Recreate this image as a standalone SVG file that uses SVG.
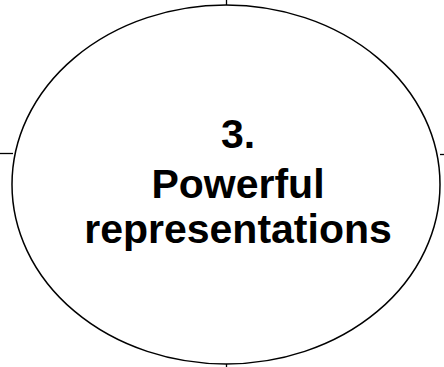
<svg xmlns="http://www.w3.org/2000/svg" width="444" height="367" viewBox="0 0 444 367">
<style>
.edge{stroke:#000;stroke-width:1.3;fill:none}
.node{fill:#fff;stroke:#000;stroke-width:1.5}
.lbl{font-family:"Liberation Sans",Arial,sans-serif;font-weight:bold;font-size:41px;fill:#000;text-anchor:middle}
</style>
<rect width="444" height="367" fill="#fff"/>
<g id="connectors">
<line class="edge" x1="226.5" y1="0" x2="226.5" y2="5"/>
<line class="edge" x1="0" y1="153.5" x2="13" y2="153.5"/>
<line class="edge" x1="440" y1="154.5" x2="444" y2="154.5"/>
<line class="edge" x1="226.5" y1="364" x2="226.5" y2="367"/>
</g>
<g id="node3">
<ellipse class="node" cx="226" cy="184.5" rx="214" ry="179.5"/>
<text class="lbl" x="238" y="148">3.</text>
<text class="lbl" x="238" y="198">Powerful</text>
<text class="lbl" x="238" y="243">representations</text>
</g>
</svg>
